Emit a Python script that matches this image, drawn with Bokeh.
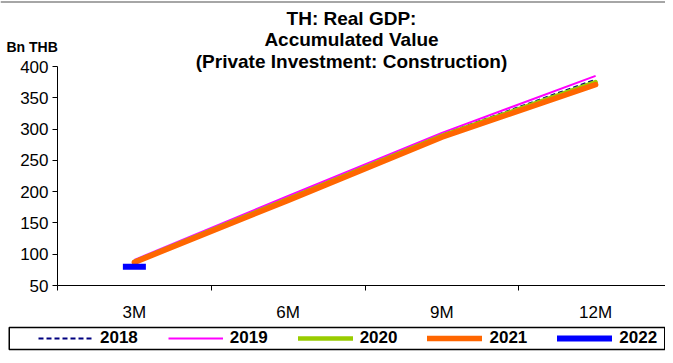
from bokeh.plotting import figure
from bokeh.models import Range1d, FixedTicker, Label, Legend, LegendItem, BoxAnnotation, Span
from bokeh.embed import file_html
from bokeh.resources import INLINE

# ---- data ----
categories = ["3M", "6M", "9M", "12M"]
y2018 = [89, 190, 291, 379]
y2019 = [91, 193, 294, 385]
y2020 = [88, 188, 289, 375]
y2021 = [87, 186, 287, 371]
y2022 = [80]
y_ticks = [50, 100, 150, 200, 250, 300, 350, 400]
title_lines = ["TH: Real GDP:", "Accumulated Value", "(Private Investment: Construction)"]
unit_label = "Bn THB"
years = ["2018", "2019", "2020", "2021", "2022"]

FONT = "Liberation Sans"
xs = list(range(1, len(categories) + 1))

# layout (picture pixels): figure occupies x 0..W, y 0..H
W, H = 665, 355
cat_px = 153.75            # pixels per category
axis_left_px = 57          # x of the y axis
y_lo, y_hi = 50, 400
top400_px, bot50_px = 66, 285
ppu = (bot50_px - top400_px) / (y_hi - y_lo)

def xdata(px):
    return 0.5 + (px - axis_left_px) / cat_px

def ydata(py):
    return y_hi + (top400_px - py) / ppu

p = figure(width=W, height=H, output_backend="svg", toolbar_location=None,
           x_range=Range1d(xdata(0), xdata(W)), y_range=Range1d(ydata(H), ydata(0)),
           min_border=0, min_border_left=0, min_border_right=0, min_border_top=0, min_border_bottom=0)
p.xgrid.visible = False
p.ygrid.visible = False
p.outline_line_color = None
p.background_fill_color = "white"

# x axis
xa = p.xaxis[0]
xa.fixed_location = y_lo
xa.bounds = (0.5, xdata(W))
xa.ticker = FixedTicker(ticks=xs, minor_ticks=[x - 0.5 for x in xs] + [xs[-1] + 0.5])
xa.major_label_overrides = {x: c for x, c in zip(xs, categories)}
xa.major_tick_line_color = None
xa.minor_tick_line_color = "black"
xa.minor_tick_in = 0
xa.minor_tick_out = 5
xa.axis_line_color = "black"
xa.major_label_text_font = FONT
xa.major_label_text_font_size = "17px"
xa.major_label_text_color = "black"
xa.major_label_standoff = 11

# y axis
ya = p.yaxis[0]
ya.fixed_location = 0.5
ya.bounds = (y_lo, y_hi)
ya.ticker = FixedTicker(ticks=y_ticks)
ya.minor_tick_line_color = None
ya.major_tick_in = 0
ya.major_tick_out = 5
ya.major_tick_line_color = "black"
ya.axis_line_color = "black"
ya.major_label_text_font = FONT
ya.major_label_text_font_size = "17px"
ya.major_label_text_color = "black"
ya.major_label_standoff = 4

# series
r18 = p.line(xs, y2018, line_color="#000080", line_width=2, line_dash="5 3")
r19 = p.line(xs, y2019, line_color="#FF00FF", line_width=2)
r20 = p.line(xs, y2020, line_color="#99CC00", line_width=4.5, line_cap="round", line_join="round")
r21 = p.line(xs, y2021, line_color="#FF6600", line_width=5.5, line_cap="round", line_join="round")
r22 = p.line(xs[:len(y2022)], y2022, line_color="#0000FF", line_width=6, line_cap="round")
p.scatter(xs[:len(y2022)], y2022, marker="dash", size=23, line_color="#0000FF", line_width=6)

# chart border (top, grey)
p.add_layout(Span(location=ydata(1.5), dimension="width", line_color="#A6A6A6", line_width=2))

# titles
for txt, py in zip(title_lines, [18, 39, 61]):
    p.add_layout(Label(x=xdata(351), y=ydata(py), text=txt, text_align="center",
                       text_baseline="middle", text_font=FONT, text_font_style="bold",
                       text_font_size="19px", text_color="black"))

p.add_layout(Label(x=xdata(6), y=ydata(46), text=unit_label, text_align="left",
                   text_baseline="middle", text_font=FONT, text_font_style="bold",
                   text_font_size="14px", text_color="black"))

# legend box
p.add_layout(BoxAnnotation(left=xdata(8.75), right=xdata(W - 0.75), top=ydata(327), bottom=ydata(349),
                           fill_alpha=0, line_color="black", line_width=1.5, line_alpha=1))

legend = Legend(items=[LegendItem(label=l, renderers=[r]) for l, r in
                       zip(years, [r18, r19, r20, r21, r22])],
                orientation="horizontal", location=(38, 7),
                glyph_width=55, glyph_height=16, label_standoff=7, spacing=30, padding=0,
                border_line_color=None, background_fill_alpha=0,
                label_text_font=FONT, label_text_font_style="bold", label_text_font_size="17px",
                label_text_color="black")
p.add_layout(legend, "center")

open("out.html", "w").write(file_html(p, INLINE))
